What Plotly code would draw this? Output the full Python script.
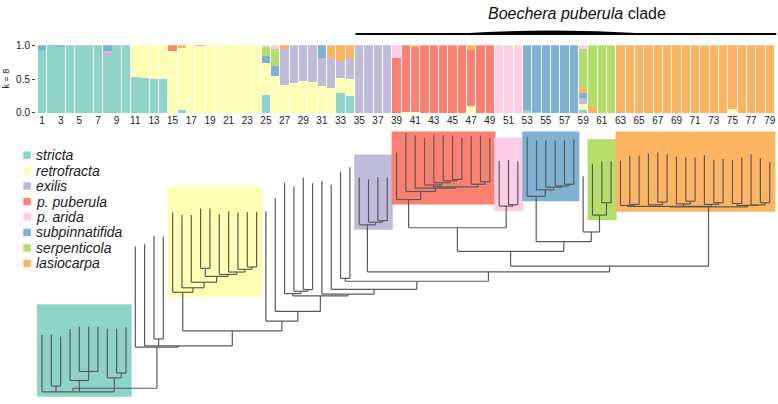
import plotly.graph_objects as go

W, H = 778, 404

# ---------------- DATA ----------------
individuals = list(range(1, 80))
tick_labels = [str(i) for i in range(1, 80, 2)]

# STRUCTURE (k = 8) membership coefficients per individual 1..79
stricta = [
    .93, .985, .98, 1, 1, 1, 1, .85, 1, 1,
    .53, .52, .51, .51, 0, .04, 0, 0, 0, 0,
    0, 0, 0, 0, .27, 0, 0, 0, 0, 0,
    0, 0, .30, .25, 0, 0, 0, 0, 0, 0,
    0, 0, 0, 0, 0, 0, 0, 0, 0, 0,
    0, 0, .04, .02, 0, 0, 0, 0, .04, 0,
    0, 0, .01, 0, 0, 0, 0, 0, 0, 0,
    0, 0, 0, 0, 0, 0, 0, 0, 0]
retrofracta = [
    0, 0, 0, 0, 0, 0, 0, 0, 0, 0,
    .47, .48, .49, .49, .92, .92, 1, .985, 1, 1,
    1, 1, 1, 1, .47, .54, .42, .45, .47, .46,
    .40, .37, .22, .25, 0, 0, 0, 0, 0, .02,
    .02, 0, 0, 0, 0, 0, .11, 0, 0, 0,
    0, 0, 0, 0, 0, 0, 0, 0, .09, 0,
    0, 0, 0, 0, 0, 0, 0, 0, 0, 0,
    0, 0, 0, 0, .06, 0, 0, 0, 0]
exilis = [
    0, 0, 0, 0, 0, 0, 0, .07, 0, 0,
    0, 0, 0, 0, 0, 0, 0, 0, 0, 0,
    0, 0, 0, 0, 0, 0, .53, .55, .53, .54,
    .42, .44, .25, .31, 1, 1, 1, 1, 0, 0,
    0, 0, 0, 0, 0, 0, 0, 0, 0, 0,
    0, 0, 0, 0, 0, 0, 0, 0, .09, 0,
    0, 0, 0, 0, 0, 0, 0, 0, 0, 0,
    0, 0, 0, 0, 0, 0, 0, 0, 0]
p_puberula = [
    0, 0, 0, 0, 0, 0, 0, 0, 0, 0,
    0, 0, 0, 0, .08, 0, 0, .015, 0, 0,
    0, 0, 0, 0, 0, 0, 0, 0, 0, 0,
    0, 0, 0, 0, 0, 0, 0, 0, .81, .98,
    .96, 1, 1, 1, 1, 1, .82, 1, 1, 0,
    0, 0, 0, 0, 0, 0, 0, 0, 0, 0,
    0, 0, 0, 0, 0, 0, 0, 0, 0, 0,
    0, 0, 0, 0, 0, 0, 0, 0, 0]
p_arida = [
    0, 0, 0, 0, 0, 0, 0, 0, 0, 0,
    0, 0, 0, 0, 0, 0, 0, 0, 0, 0,
    0, 0, 0, 0, .02, .05, 0, 0, 0, 0,
    0, 0, 0, 0, 0, 0, 0, 0, .19, 0,
    0, 0, 0, 0, 0, 0, 0, 0, 0, 1,
    1, 1, 0, 0, 0, 0, 0, 0, .05, 0,
    0, 0, 0, 0, 0, 0, 0, 0, 0, 0,
    0, 0, 0, 0, 0, 0, 0, 0, 0]
subpinnatifida = [
    .07, .015, .02, 0, 0, 0, 0, .08, 0, 0,
    0, 0, 0, 0, 0, 0, 0, 0, 0, 0,
    0, 0, 0, 0, .10, .16, 0, 0, 0, 0,
    .18, 0, 0, 0, 0, 0, 0, 0, 0, 0,
    0, 0, 0, 0, 0, 0, 0, 0, 0, 0,
    0, 0, .96, .98, 1, 1, 1, 1, .07, 0,
    0, 0, 0, 0, 0, 0, 0, 0, 0, 0,
    0, 0, 0, 0, 0, 0, 0, 0, 0]
serpenticola = [
    0, 0, 0, 0, 0, 0, 0, 0, 0, 0,
    0, 0, 0, 0, 0, 0, 0, 0, 0, 0,
    0, 0, 0, 0, .14, .25, 0, 0, 0, 0,
    0, 0, 0, 0, 0, 0, 0, 0, 0, 0,
    0, 0, 0, 0, 0, 0, 0, 0, 0, 0,
    0, 0, 0, 0, 0, 0, 0, 0, .58, .91,
    1, 1, 0, 0, 0, 0, 0, 0, 0, 0,
    0, .02, 0, 0, 0, 0, 0, 0, 0]
lasiocarpa = [
    0, 0, 0, 0, 0, 0, 0, 0, 0, 0,
    0, 0, 0, 0, 0, .04, 0, 0, 0, 0,
    0, 0, 0, 0, 0, 0, .05, 0, 0, 0,
    0, .19, .23, .19, 0, 0, 0, 0, 0, 0,
    .02, 0, 0, 0, 0, 0, .07, 0, 0, 0,
    0, 0, 0, 0, 0, 0, 0, 0, .08, .09,
    0, 0, .99, 1, 1, 1, 1, 1, 1, 1,
    1, .98, 1, 1, .94, 1, 1, 1, 1]

pop_names = ["stricta", "retrofracta", "exilis", "p. puberula", "p. arida",
             "subpinnatifida", "serpenticola", "lasiocarpa"]
pop_colors = ["#8dd3c7", "#ffffb3", "#bebada", "#fb8072", "#fccde5",
              "#80b1d3", "#b3de69", "#fdb462"]
q_values = {"stricta": stricta, "retrofracta": retrofracta, "exilis": exilis,
            "p. puberula": p_puberula, "p. arida": p_arida,
            "subpinnatifida": subpinnatifida, "serpenticola": serpenticola,
            "lasiocarpa": lasiocarpa}
stack_order = ["stricta", "retrofracta", "exilis", "p. puberula",
               "subpinnatifida", "lasiocarpa", "serpenticola", "p. arida"]

# Tree: depth of each tip (tips in the same order as the individuals)
tip_depth = [
    339.3, 339, 340.7, 333, 330.7, 330.7, 330.7, 332.7, 332.7, 331.3,
    248.3, 246, 237.3, 238.3, 213.3, 215.3, 216, 209.3, 209.3, 215.3,
    212, 213.3, 212.7, 212.7, 212, 198.7, 182.7, 186.7, 177.3, 183.3,
    180.7, 184.7, 171.3, 166.7, 177.3, 179.3, 176.7, 177.3, 151.7, 131.7,
    134, 136.7, 133.3, 134, 134, 136.7, 135, 134, 136.7, 160,
    159.3, 161, 136, 139.3, 139.3, 139.3, 139.3, 138.3, 176, 163.3,
    161, 161, 160, 155, 155, 152.7, 151.7, 153.3, 156, 156.7,
    156.7, 154.3, 159, 158.3, 159.3, 156.7, 153.3, 157.3, 161.7]

# internal node = (depth, [children]); leaf = tip number
clade_stricta = (397.7, [1, (391.7, [2, 3]), (386, [4, (376.7, [5, 6, 7])]),
                         (383.3, [8, (378.3, [9, 10])])])
clade_retrofracta = (295.3, [15, (290.7, [16, (285, [17, (279, [
    (270.7, [18, 19]),
    (277, [20, (274.5, [21, (271.7, [22, (269.3, [23, 24])])])])])])])])
clade_exilis = (226, [35, (223.3, [36, (221.7, [37, 38])])])
clade_puberula = (200, [39, (191.7, [40, (188.3, [41, (187, [
    (185, [42, (182.7, [43, (180.7, [44, (179.3, [45, 46])])])]),
    (184.3, [47, (181.7, [48, 49])])])])])])
clade_arida = (206.7, [50, (205.3, [51, 52])])
clade_subpinnatifida = (196.7, [53, (190, [54, (187.3, [55, (186, [56, (184.3, [57, 58])])])])])
clade_serpenticola = (216, [60, (203.3, [61, 62])])
clade_lasiocarpa = (207.5, [
    (207, [(206, [63, (205, [64, 65])]), (205.5, [66, (202.7, [67, 68])]),
           (204.5, [69, (201.7, [70, 71])]), (205, [72, (203.3, [73, 74])])]),
    (206, [(204, [75, 76]), (205.5, [77, (203.3, [78, 79])])])])

q9 = (268.5, [(253.3, [(229, [clade_puberula, clade_arida]),
                       (243.3, [clade_subpinnatifida, (233.3, [59, clade_serpenticola])])]),
              clade_lasiocarpa])
q8 = (274.3, [clade_exilis, q9])
q7 = (284, [(281, [33, 34]), q8])
q6 = (292.3, [32, q7])
q5 = (297.3, [31, q6])
q4 = (299, [(296.7, [27, (294.3, [28, (292.5, [29, 30])])]), q5])
q3 = (315, [26, q4])
q2 = (325, [25, q3])
q1 = (335, [clade_retrofracta, q2])
p1 = (351.7, [11, (350.5, [12, (343.3, [13, 14]), q1])])
tree_root = (394, [clade_stricta, p1])

boxed_clades = [("stricta", 1, 10, clade_stricta),
                ("retrofracta", 15, 24, clade_retrofracta),
                ("exilis", 35, 38, clade_exilis),
                ("p. puberula", 39, 49, clade_puberula),
                ("p. arida", 50, 52, clade_arida),
                ("subpinnatifida", 53, 58, clade_subpinnatifida),
                ("serpenticola", 60, 62, clade_serpenticola),
                ("lasiocarpa", 63, 79, clade_lasiocarpa)]

clade_label_main = "Boechera puberula"
clade_label_rest = " clade"
clade_first, clade_last = 35, 79

# ---------------- LAYOUT HELPERS ----------------
TIP1_PX, STEP_PX = 42.0, 9.33
def px2x(px):
    return 1 + (px - TIP1_PX) / STEP_PX

FONT = "Liberation Sans, Arial, Helvetica, sans-serif"
col = dict(zip(pop_names, pop_colors))

fig = go.Figure()

# STRUCTURE bars
for name in stack_order:
    fig.add_trace(go.Bar(x=individuals, y=q_values[name], name=name,
                         marker=dict(color=col[name], line=dict(width=0)),
                         xaxis="x", yaxis="y", showlegend=False, hoverinfo="skip"))

# Tree segments
seg_x, seg_y = [], []
def draw(node):
    if isinstance(node, int):
        return float(node), tip_depth[node - 1]
    d, kids = node
    pos = [draw(k) for k in kids]
    xs = [p[0] for p in pos]
    seg_x.extend([min(xs), max(xs), None]); seg_y.extend([d, d, None])
    for cx, cy in pos:
        seg_x.extend([cx, cx, None]); seg_y.extend([d, cy, None])
    return sum(xs) / len(xs), d
rx, ry = draw(tree_root)

fig.add_trace(go.Scatter(x=seg_x, y=seg_y, mode="lines",
                         line=dict(color="#5a5a5a", width=1.2),
                         xaxis="x2", yaxis="y2", showlegend=False, hoverinfo="skip"))

def min_tip(node):
    if isinstance(node, int):
        return tip_depth[node - 1]
    return min(min_tip(k) for k in node[1])

shapes = []
for name, a, b, node in boxed_clades:
    shapes.append(dict(type="rect", xref="x2", yref="y2", layer="below",
                       x0=a - 0.53, x1=b + 0.6,
                       y0=max(130, min_tip(node) - 23), y1=node[0] + 5,
                       fillcolor=col[name], line=dict(width=0)))

# clade bracket line
xa, xb = clade_first - 0.4, clade_last + 0.7
xm = px2x(553)
shapes.append(dict(type="path", xref="x2", yref="y2", fillcolor="black",
                   line=dict(width=0),
                   path=f"M {xa},28.8 L {xb},28.8 L {xb},30.9 L {xa},30.9 Z"))
shapes.append(dict(type="path", xref="x2", yref="y2", fillcolor="black",
                   line=dict(width=0),
                   path=f"M {xm-9.5},29 Q {xm},23.5 {xm+9.5},29 Z"))

annotations = [dict(xref="paper", yref="paper", x=577 / W, y=1 - 8.5 / H,
                    text=f"<i>{clade_label_main}</i>{clade_label_rest}",
                    showarrow=False, xanchor="center", yanchor="middle",
                    font=dict(family=FONT, size=16, color="#111")),
               dict(xref="paper", yref="paper", x=5.5 / W, y=1 - 76 / H,
                    text="k = 8", textangle=-90, showarrow=False,
                    xanchor="center", yanchor="middle",
                    font=dict(family=FONT, size=9, color="#222"))]

for k, name in enumerate(pop_names):
    cy = 154.3 + 15.9 * k
    shapes.append(dict(type="rect", xref="paper", yref="paper",
                       x0=23.3 / W, x1=30.8 / W, y0=1 - (cy + 3.8) / H, y1=1 - (cy - 3.8) / H,
                       fillcolor=col[name], line=dict(width=0)))
    annotations.append(dict(xref="paper", yref="paper", x=34 / W, y=1 - cy / H,
                            text=f"<i>{name}</i>", showarrow=False,
                            xanchor="left", yanchor="middle",
                            font=dict(family=FONT, size=14, color="#222")))

xr_right = px2x(W)
fig.update_layout(
    width=W, height=H, margin=dict(l=0, r=0, t=0, b=0),
    paper_bgcolor="white", plot_bgcolor="rgba(0,0,0,0)",
    barmode="stack", bargap=0.1,
    font=dict(family=FONT, color="#222"),
    xaxis=dict(domain=[36 / W, 1], range=[px2x(36), xr_right], anchor="y",
               tickmode="array", tickvals=list(range(1, 80, 2)), ticktext=tick_labels,
               ticks="", showline=False, showgrid=False, zeroline=False,
               tickfont=dict(size=10, color="#222")),
    yaxis=dict(domain=[1 - 111 / H, 1 - 41.5 / H], range=[0, 1], anchor="x",
               tickvals=[0, 0.5, 1], ticktext=["0.0", "0.5", "1.0"],
               ticks="outside", ticklen=3, tickcolor="#444", showline=False,
               showgrid=False, zeroline=False, tickfont=dict(size=10, color="#222")),
    xaxis2=dict(domain=[0, 1], range=[px2x(0), xr_right], anchor="y2", visible=False),
    yaxis2=dict(domain=[0, 1], range=[H, 0], anchor="x2", visible=False),
    shapes=shapes, annotations=annotations,
)

fig.write_html("out.html", config={"displayModeBar": False, "staticPlot": True},
               post_script="document.body.style.margin='0px';"
                           "document.body.style.overflow='hidden';")
